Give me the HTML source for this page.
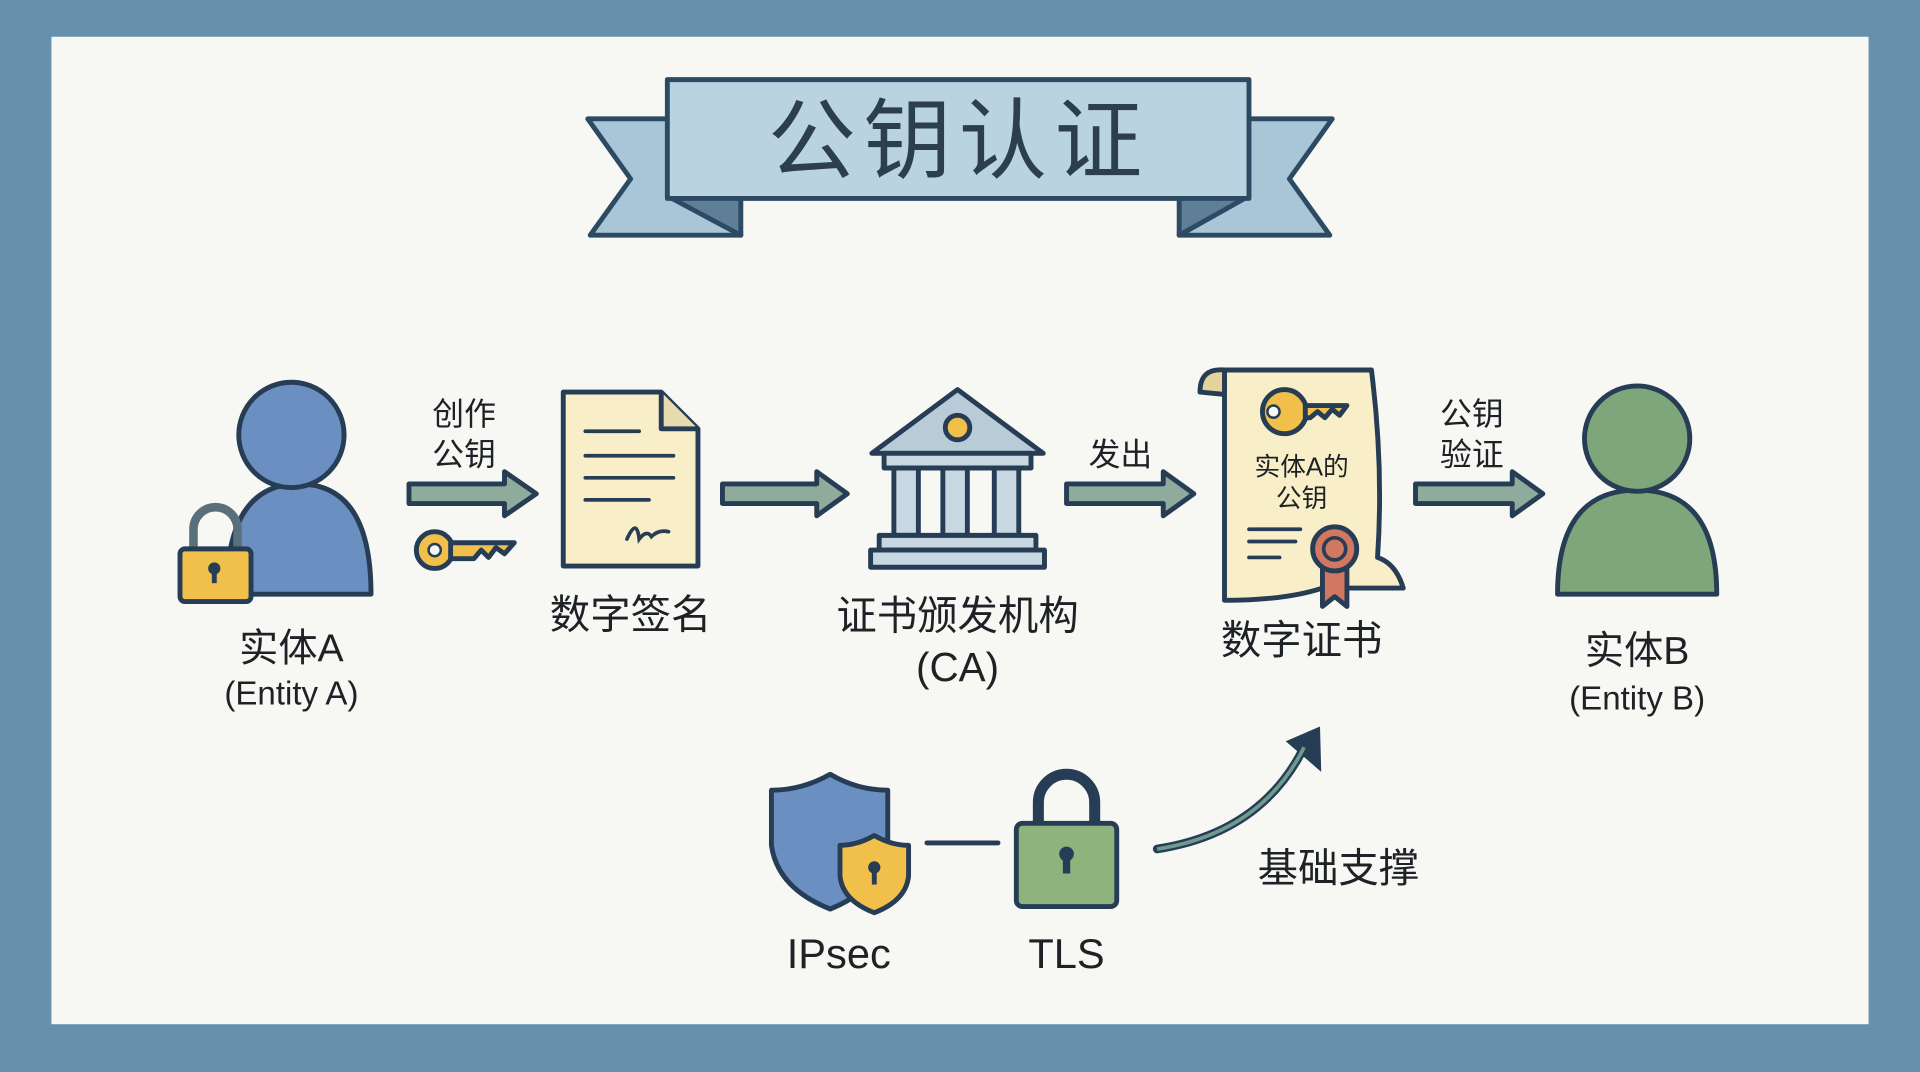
<!DOCTYPE html>
<html><head><meta charset="utf-8"><style>
html,body{margin:0;padding:0;background:#6690ab;}
svg{display:block}
text{font-family:"Liberation Sans","Noto Sans CJK SC",sans-serif;fill:#1e2226;text-anchor:middle}
</style></head><body>
<svg width="1920" height="1072" viewBox="0 0 1568 875" preserveAspectRatio="none" xmlns="http://www.w3.org/2000/svg">
<rect width="1568" height="875" fill="#6690ab"/>
<rect x="42" y="30" width="1484" height="806" fill="#f7f7f4"/>
<g stroke="#2d4a63" stroke-width="4" stroke-linejoin="round">
<!-- banner tails -->
<polygon points="480,97 600,97 605,192 482,192 515,146" fill="#a8c6d8"/>
<polygon points="1088,97 968,97 963,192 1086,192 1053,146" fill="#a8c6d8"/>
<polygon points="545,160 605,192 605,160" fill="#5f7f98"/>
<polygon points="1020,160 963,192 963,160" fill="#5f7f98"/>
<rect x="545" y="65" width="475" height="97" fill="#b9d3e0"/>
</g>
<text x="783" y="140" font-size="72" fill="#2d3e4f" style="fill:#2d3e4f;letter-spacing:6px">公钥认证</text>

<g stroke="#263d55" stroke-width="4" stroke-linejoin="round">
<!-- person A -->
<path d="M185,485 Q185,395 244,395 Q303,395 303,485 Z" fill="#6b8fc0"/>
<circle cx="238" cy="355" r="43" fill="#6b8fc0"/>
<path d="M158,450 v-18 a18,18 0 0 1 36,0 v18" fill="none" stroke="#59707a" stroke-width="7"/>
<rect x="147" y="448" width="58" height="43" rx="4" fill="#f0c04a"/>
<!-- key -->
<circle cx="355" cy="449" r="15" fill="#f0c04a"/>
<path d="M368,443 H420 L412,452 L405,447 L399,455 L393,449 L387,456 H368 Z" fill="#f0c04a"/>
<!-- arrows -->
<polygon points="334,395 412,395 412,385 438,403 412,421 412,411 334,411" fill="#8fab9c"/>
<polygon points="590,395 667,395 667,385 692,403 667,421 667,411 590,411" fill="#8fab9c"/>
<polygon points="871,395 950,395 950,385 975,403 950,421 950,411 871,411" fill="#8fab9c"/>
<polygon points="1156,395 1235,395 1235,385 1260,403 1235,421 1235,411 1156,411" fill="#8fab9c"/>
<!-- document -->
<path d="M460,320 H540 L570,350 V462 H460 Z" fill="#f8efc8"/>
<path d="M540,320 V350 H570" fill="#e8dcae"/>
<!-- bank -->
<polygon points="712,370 782,318 852,370" fill="#b8ccd8"/>
<rect x="722" y="370" width="120" height="12" fill="#c8d8e2"/>
<rect x="730" y="382" width="20" height="55" fill="#c8d8e2"/>
<rect x="770" y="382" width="20" height="55" fill="#c8d8e2"/>
<rect x="812" y="382" width="20" height="55" fill="#c8d8e2"/>
<rect x="718" y="437" width="128" height="12" fill="#c8d8e2"/>
<rect x="711" y="449" width="142" height="14" fill="#c8d8e2"/>
<circle cx="782" cy="349" r="10" fill="#f0c04a"/>
<!-- scroll -->
<path d="M1000,302 H1120 Q1130,380 1125,455 Q1140,460 1146,480 H1080 Q1050,490 1000,490 Q1000,400 1000,320 Z" fill="#f8efc8"/>
<path d="M1000,302 Q980,300 980,320 L1000,322 Z" fill="#e4d49a"/>
<circle cx="1049" cy="336" r="18" fill="#f0c04a"/>
<path d="M1066,331 H1100 L1094,339 L1088,334 L1082,341 L1076,336 L1070,341 H1066 Z" fill="#f0c04a"/>
<path d="M1080,460 L1080,495 L1090,487 L1100,495 L1100,460 Z" fill="#d37860"/>
<circle cx="1090" cy="448" r="18" fill="#d37860"/>
<!-- person B -->
<path d="M1272,485 Q1272,400 1337,400 Q1402,400 1402,485 Z" fill="#7fa57a"/>
<circle cx="1337" cy="358" r="43" fill="#7fa57a"/>
<!-- shields -->
<path d="M678,632 Q700,645 725,645 V690 Q720,725 678,742 Q635,725 630,690 V645 Q655,645 678,632 Z" fill="#6b8fc0"/>
<path d="M714,682 Q728,690 742,690 V715 Q740,735 714,745 Q688,735 686,715 V690 Q700,690 714,682 Z" fill="#f0c04a"/>
<path d="M848,675 v-20 a23,23 0 0 1 46,0 v20" fill="none" stroke-width="9"/>
<rect x="830" y="672" width="82" height="68" rx="5" fill="#8fb37d"/>
</g>
<g stroke="#263d55" stroke-width="3" fill="none" stroke-linecap="round">
<line x1="478" y1="352" x2="522" y2="352"/><line x1="478" y1="372" x2="550" y2="372"/><line x1="478" y1="390" x2="550" y2="390"/><line x1="478" y1="408" x2="530" y2="408"/>
<path d="M512,440 q8,-18 10,0 q6,-8 10,-2 q6,-6 14,-4"/>
<line x1="1020" y1="432" x2="1062" y2="432"/><line x1="1020" y1="442" x2="1058" y2="442"/><line x1="1020" y1="455" x2="1045" y2="455"/>
<line x1="757" y1="688" x2="815" y2="688" stroke-width="4"/>
<path d="M945,693 Q1030,680 1065,610" stroke-width="7"/>
</g>
<circle cx="1090" cy="448" r="9" fill="none" stroke="#263d55" stroke-width="3"/>
<polygon points="1078,593 1050,605 1079,630" fill="#263d55"/>
<path d="M945,693 Q1030,680 1065,610" stroke="#6f9b8f" stroke-width="3" fill="none"/>
<circle cx="175" cy="464" r="5" fill="#263d55"/><rect x="173" y="464" width="4" height="12" fill="#263d55"/>
<circle cx="714" cy="708" r="5" fill="#263d55"/><rect x="712" y="708" width="4" height="14" fill="#263d55"/>
<circle cx="871" cy="697" r="6" fill="#263d55"/><rect x="868" y="697" width="6" height="16" fill="#263d55"/>
<circle cx="355" cy="449" r="5" fill="#f7f7f4" stroke="#263d55" stroke-width="2"/>
<circle cx="1040" cy="336" r="5" fill="#f7f7f4" stroke="#263d55" stroke-width="2"/>

<text x="238" y="540" font-size="32">实体A</text>
<text x="238" y="575" font-size="27">(Entity A)</text>
<text x="379" y="347" font-size="26">创作</text>
<text x="379" y="380" font-size="26">公钥</text>
<text x="515" y="513" font-size="33">数字签名</text>
<text x="782" y="514" font-size="33">证书颁发机构</text>
<text x="782" y="556" font-size="33">(CA)</text>
<text x="915" y="380" font-size="26">发出</text>
<text x="1063" y="388" font-size="21">实体A的</text>
<text x="1063" y="414" font-size="21">公钥</text>
<text x="1063" y="534" font-size="33">数字证书</text>
<text x="1202" y="347" font-size="26">公钥</text>
<text x="1202" y="380" font-size="26">验证</text>
<text x="1337" y="542" font-size="32">实体B</text>
<text x="1337" y="579" font-size="27">(Entity B)</text>
<text x="685" y="790" font-size="34">IPsec</text>
<text x="871" y="790" font-size="34">TLS</text>
<text x="1093" y="720" font-size="33">基础支撑</text>
</svg>
</body></html>
